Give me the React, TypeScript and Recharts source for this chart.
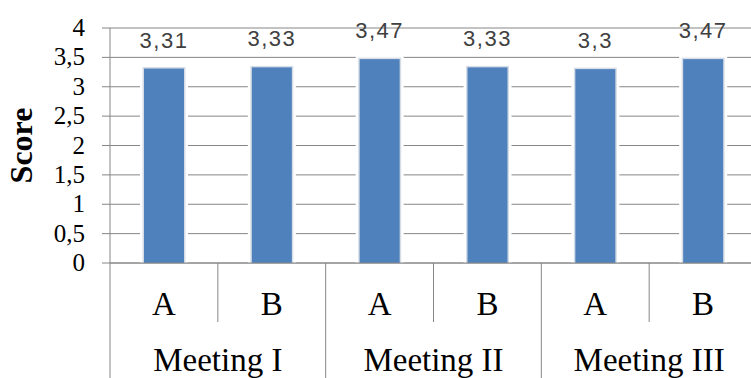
import React from 'react';
import { BarChart, Bar, XAxis, YAxis, CartesianGrid, LabelList } from 'recharts';

const meetings = ['Meeting I', 'Meeting I', 'Meeting II', 'Meeting II', 'Meeting III', 'Meeting III'];
const groups = ['A', 'B', 'A', 'B', 'A', 'B'];
const scores = [3.31, 3.33, 3.47, 3.33, 3.3, 3.47];
const yTicks = [0, 0.5, 1, 1.5, 2, 2.5, 3, 3.5, 4];

const data = groups.map((g, i) => ({ group: g, meeting: meetings[i], score: scores[i] }));

const CHART_W = 760;
const CHART_H = 378;
const AXIS_W = 110;
const MARGIN_RIGHT = 3;
const PLOT_BOTTOM = 263;
const BAND = (CHART_W - AXIS_W - MARGIN_RIGHT) / data.length;
const LINE = '#868686';
const SERIF = '"Liberation Serif", "Times New Roman", serif';

const fmt = (v: number) => String(v).replace('.', ',');

const ScoreTick = (props: any) => {
  const { x, y, payload } = props;
  return (
    <g>
      <text x={x} y={y + 8} textAnchor="end" fontFamily="Liberation Serif" fontSize={25} fill="#000"
        style={{ fontFamily: SERIF, fontSize: 25 }}>
        {fmt(payload.value)}
      </text>
    </g>
  );
};

const GroupTick = (props: any) => {
  const { x, index } = props;
  const right = x + BAND / 2;
  return (
    <g>
      {index === 0 && (
        <line x1={x - BAND / 2} x2={x - BAND / 2} y1={PLOT_BOTTOM} y2={CHART_H} stroke={LINE} />
      )}
      <line x1={right} x2={right} y1={PLOT_BOTTOM} y2={index % 2 === 0 ? 322 : CHART_H} stroke={LINE} />
      <text x={x} y={304} textAnchor="middle" dominantBaseline="central"
        style={{ fontFamily: SERIF, fontSize: 33, fill: '#000' }}>
        {props.payload.value}
      </text>
    </g>
  );
};

const MeetingTick = (props: any) => {
  const { x, index } = props;
  if (index % 2 !== 0) return <g />;
  return (
    <text x={x + BAND / 2} y={360} textAnchor="middle" dominantBaseline="central"
      style={{ fontFamily: SERIF, fontSize: 33, fill: '#000' }}>
      {props.payload.value}
    </text>
  );
};

const BarShape = (p: any) => (
  <g>
    <rect x={p.x - 4} y={p.y - 3} width={p.width + 8} height={p.height + 3} fill="#fff" />
    <rect x={p.x - 1.5} y={p.y - 1.5} width={p.width + 3} height={p.height + 1.5} fill="#d6dde6" />
    <rect x={p.x} y={p.y} width={p.width} height={p.height} fill="#4F81BD" />
  </g>
);

export default function App() {
  return (
    <div style={{ position: 'fixed', left: 0, top: 0, width: 751, height: 378, overflow: 'hidden', background: '#fff' }}>
      <BarChart width={CHART_W} height={CHART_H} data={data}
        margin={{ top: 28, right: MARGIN_RIGHT, left: 0, bottom: 0 }}>
        <CartesianGrid vertical={false} stroke={LINE} />
        <YAxis
          width={AXIS_W}
          domain={[0, 4]}
          ticks={yTicks}
          interval={0}
          axisLine={{ stroke: LINE }}
          tickLine={{ stroke: LINE }}
          tickSize={8}
          tickMargin={17}
          tick={<ScoreTick />}
          label={{
            value: 'Score', angle: -90, position: 'insideLeft', dx: 16, dy: 0,
            style: { fontFamily: SERIF, fontSize: 32, fontWeight: 'bold', fill: '#000', textAnchor: 'middle' },
          }}
        />
        <XAxis dataKey="group" height={60} interval={0} axisLine={{ stroke: LINE }} tickLine={false} tick={<GroupTick />} />
        <XAxis xAxisId="m" dataKey="meeting" height={55} interval={0} axisLine={false} tickLine={false} tick={<MeetingTick />} />
        <Bar dataKey="score" barSize={40} isAnimationActive={false} shape={<BarShape />}>
          <LabelList dataKey="score" position="top" offset={21} formatter={(v: any) => fmt(v)}
            style={{ fontFamily: '"Liberation Sans", Arial, sans-serif', fontSize: 22, letterSpacing: 1.5, fill: '#404040' }} />
        </Bar>
      </BarChart>
    </div>
  );
}
